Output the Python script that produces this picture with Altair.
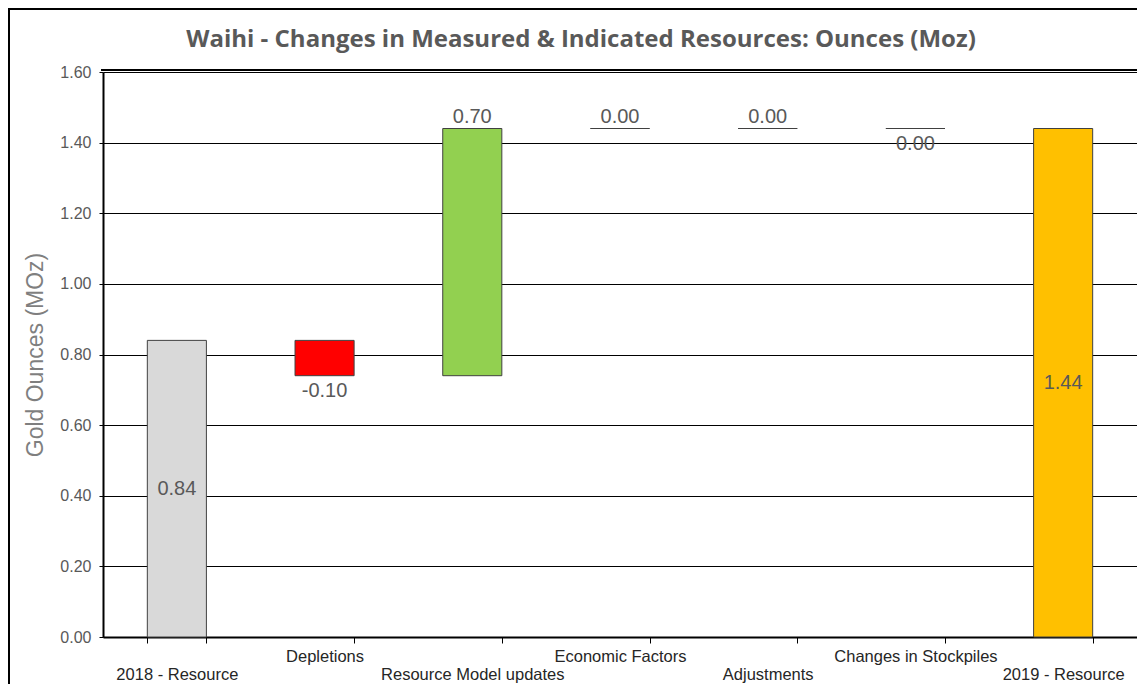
import altair as alt
import pandas as pd

categories = ["2018 - Resource", "Depletions", "Resource Model updates", "Economic Factors",
              "Adjustments", "Changes in Stockpiles", "2019 - Resource"]
changes = [0.84, -0.10, 0.70, 0.00, 0.00, 0.00, 1.44]
kinds = ["total", "delta", "delta", "delta", "delta", "delta", "total"]
colors = ["#D9D9D9", "#FF0000", "#92D050", "#92D050", "#92D050", "#92D050", "#FFC000"]
label_side = ["mid", "below", "above", "above", "above", "below", "mid"]
y_ticks = [0.0, 0.2, 0.4, 0.6, 0.8, 1.0, 1.2, 1.4, 1.6]

rows = []
run = 0.0
for c, v, k, col, side in zip(categories, changes, kinds, colors, label_side):
    if k == "total":
        start, end = 0.0, v
        run = v
    else:
        start, end = run, run + v
        run = run + v
    lo, hi = min(start, end), max(start, end)
    lab_y = {"mid": (lo + hi) / 2, "below": lo, "above": hi}[side]
    rows.append(dict(cat=c, start=start, end=end, color=col, side=side,
                     lab_y=lab_y, text=f"{v:.2f}"))
df = pd.DataFrame(rows)

W, H = 1034, 565
PAD_L, PAD_T, PAD_B = 95, 64, 47
upper = ["Depletions", "Economic Factors", "Changes in Stockpiles"]
label_expr = ("indexof(" + str(upper) + ", datum.value) >= 0 ? [datum.value, ' '] : [' ', datum.value]")

x_enc = alt.X("cat:N", sort=categories, title=None,
              scale=alt.Scale(paddingInner=0.6, paddingOuter=0.3),
              axis=alt.Axis(labelAngle=0, labelExpr=label_expr, tickBand="extent",
                            domainColor="#000000", domainWidth=2, tickColor="#000000",
                            tickSize=6, labelPadding=5, labelLineHeight=18, labelLimit=400,
                            labelFont="Liberation Sans", labelFontSize=16.5, labelColor="#262626",
                            labelBaseline="top", grid=False))
y_scale = alt.Scale(domain=[0, 1.6], nice=False)

base = alt.Chart(df)

bars = base.mark_bar(stroke="#404040", strokeWidth=1).encode(
    x=x_enc,
    y=alt.Y("start:Q", scale=y_scale, title="Gold Ounces (MOz)",
            axis=alt.Axis(values=y_ticks, format=".2f", grid=True, gridColor="#000000",
                          gridWidth=1, domainColor="#000000", domainWidth=2,
                          tickColor="#000000", tickSize=4, labelPadding=8,
                          labelFont="Liberation Sans", labelFontSize=16, labelColor="#595959",
                          titleFont="Liberation Sans", titleFontSize=23, titleFontWeight="normal",
                          titleColor="#7F7F7F", titlePadding=12)),
    y2="end:Q",
    color=alt.Color("color:N", scale=None),
)

txt_common = dict(font="Liberation Sans", fontSize=20, color="#595959")
lab_mid = base.transform_filter("datum.side == 'mid'").mark_text(baseline="middle", **txt_common).encode(
    x=alt.X("cat:N", sort=categories), y=alt.Y("lab_y:Q", scale=y_scale), text="text:N")
lab_above = base.transform_filter("datum.side == 'above'").mark_text(baseline="bottom", dy=-2, **txt_common).encode(
    x=alt.X("cat:N", sort=categories), y=alt.Y("lab_y:Q", scale=y_scale), text="text:N")
lab_below = base.transform_filter("datum.side == 'below'").mark_text(baseline="top", dy=5, **txt_common).encode(
    x=alt.X("cat:N", sort=categories), y=alt.Y("lab_y:Q", scale=y_scale), text="text:N")

top_rule = alt.Chart(pd.DataFrame({"v": [1.6]})).mark_rule(color="#000000", strokeWidth=2, yOffset=-2).encode(
    y=alt.Y("v:Q", scale=y_scale), x=alt.value(-2), x2=alt.value(W))

frame = alt.Chart(pd.DataFrame({"v": [1.6]})).mark_rect(fill=None, stroke="#000000", strokeWidth=2).encode(
    x=alt.value(-PAD_L + 1), x2=alt.value(W + 200), y=alt.value(-PAD_T + 1), y2=alt.value(H + 200))

chart = alt.layer(frame, bars, top_rule, lab_mid, lab_above, lab_below).properties(
    width=W, height=H,
    autosize=alt.AutoSizeParams(type="none"),
    padding={"left": PAD_L, "top": PAD_T, "right": 0, "bottom": PAD_B},
    title=alt.TitleParams("Waihi - Changes in Measured & Indicated Resources: Ounces (Moz)",
                          font="Open Sans", fontSize=24, fontWeight="bold", color="#595959",
                          anchor="middle", frame="group", offset=-44, dx=-39),
).configure_view(stroke="#A6A6A6", strokeWidth=1).configure(background="white")

chart.save("out.html", embed_options={"renderer": "svg", "actions": False})
